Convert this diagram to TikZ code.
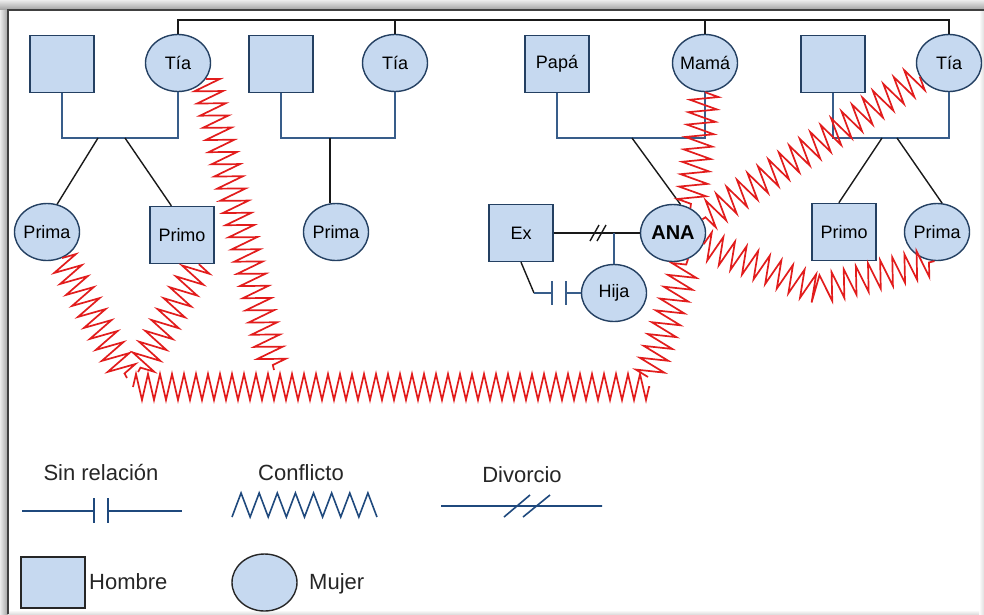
\documentclass[tikz,border=0pt]{standalone}
\usepackage{fontspec}
\setmainfont{Liberation Sans}
\usetikzlibrary{shapes.geometric,decorations.pathmorphing}
\definecolor{nodefill}{RGB}{198,217,240}
\definecolor{nodeedge}{RGB}{36,64,98}
\definecolor{cplcol}{RGB}{56,93,138}
\definecolor{zigcol}{RGB}{226,28,28}
\definecolor{legblue}{RGB}{31,73,125}
\newcommand\nlab[1]{\makebox[0pt]{#1}}
\begin{document}
\begin{tikzpicture}[x=1pt,y=-1pt,
  male/.style={rectangle,draw=nodeedge,line width=1.4pt,fill=nodefill,minimum width=64pt,minimum height=57pt,inner sep=0pt,font=\fontsize{18}{20}\selectfont},
  female/.style={ellipse,draw=nodeedge,line width=1.4pt,fill=nodefill,minimum width=65pt,minimum height=57pt,inner sep=0pt,font=\fontsize{18}{20}\selectfont},
  cpl/.style={draw=cplcol,line width=1.4pt},
  kid/.style={draw=black!90,line width=1.4pt},
  conf/.style={draw=zigcol,line width=1.7pt,decorate,decoration={zigzag,segment length=12.5pt,amplitude=14pt}},
  confh/.style={conf,decoration={zigzag,segment length=12pt,amplitude=13pt}},
  legline/.style={draw=legblue,line width=1.6pt},
  legtext/.style={font=\fontsize{22}{24}\selectfont,text=black!85,inner sep=0pt}]
\useasboundingbox (0,0) rectangle (984,614);
% frame
\fill[white] (0,0) rectangle (984,614);
\shade[top color=gray!15,bottom color=gray!75] (0,0) rectangle (984,10);
\shade[left color=gray!15,right color=gray!75] (0,10) rectangle (8,614);
\shade[left color=white,right color=gray!25] (979,10) rectangle (984,614);
\shade[top color=white,bottom color=gray!25] (8,610) rectangle (979,614);
\draw[black!75,line width=1.2pt] (8,614) -- (8,10) -- (984,10);

% top generation
\node[male] (sq1) at (62,64) {};
\node[female] (tia1) at (178,63) {\nlab{Tía}};
\node[male] (sq2) at (281,64) {};
\node[female] (tia2) at (395,63) {\nlab{Tía}};
\node[male] (papa) at (557,64) {\nlab{Papá}};
\node[female] (mama) at (705,63) {\nlab{Mamá}};
\node[male] (sq4) at (833,64) {};
\node[female] (tia4) at (949,63) {\nlab{Tía}};
% second generation
\node[female] (prima1) at (47,232) {\nlab{Prima}};
\node[male] (primo1) at (182,235) {\nlab{Primo}};
\node[female] (prima2) at (336,232) {\nlab{Prima}};
\node[male] (ex) at (521,233) {\nlab{Ex}};
\node[female] (ana) at (673,233) {\nlab{\fontsize{20}{22}\selectfont\bfseries ANA}};
\node[female] (hija) at (614,293) {\nlab{Hija}};
\node[male] (primo2) at (844,232) {\nlab{Primo}};
\node[female] (prima3) at (937,232) {\nlab{Prima}};

% helper coordinates
\coordinate (top) at (0,20);
\coordinate (cy) at (0,138);
\coordinate (k1) at (98,138);
\coordinate (k2) at (125,138);
\coordinate (k3) at (330,138);
\coordinate (k4) at (632,138);
\coordinate (k5) at (882,138);
\coordinate (k6) at (897,138);

% sibling line on top
\draw[kid] (tia1.north) -- (tia1.north |- top) -- (tia4.north |- top) -- (tia4.north);
\draw[kid] (tia2.north) -- (tia2.north |- top);
\draw[kid] (mama.north) -- (mama.north |- top);

% couple lines
\draw[cpl] (sq1.south) -- (sq1.south |- cy) -- (tia1.south |- cy) -- (tia1.south);
\draw[cpl] (sq2.south) -- (sq2.south |- cy) -- (tia2.south |- cy) -- (tia2.south);
\draw[cpl] (papa.south) -- (papa.south |- cy) -- (mama.south |- cy) -- (mama.south);
\draw[cpl] (sq4.south) -- (sq4.south |- cy) -- (tia4.south |- cy) -- (tia4.south);

% children lines
\draw[kid] (k1) -- (prima1.70);
\draw[kid] (k2) -- (primo1.110);
\draw[kid] (k3) -- (k3 |- prima2.north);
\draw[kid] (k4) -- (ana.75);
\draw[kid] (k5) -- (primo2.100);
\draw[kid] (k6) -- (prima3.80);

% Ex - ANA divorce
\draw[kid] (ex.east) -- (ana.west);
\coordinate (dv) at (598,233);
\draw[kid] ([shift={(-8,8)}]dv) -- ([shift={(1,-8)}]dv);
\draw[kid] ([shift={(-1,8)}]dv) -- ([shift={(8,-8)}]dv);
\draw[cpl] (hija.north |- ana.west) -- (hija.north);

% Ex - Hija no relation
\coordinate (sr1) at (534,293);
\coordinate (b1) at (552,293);
\coordinate (b2) at (566,293);
\draw[kid] (ex.south) -- (sr1);
\draw[cpl] (sr1) -- (b1) ([yshift=12pt]b1) -- ([yshift=-12pt]b1)
  ([yshift=12pt]b2) -- ([yshift=-12pt]b2) (b2) -- (hija.west);

% conflicts
\coordinate (j1) at (133,387);
\coordinate (j2) at (650,387);
\coordinate (z1) at (127,378);
\coordinate (z2) at (138,372);
\coordinate (z3) at (274,370);
\coordinate (z5) at (648,377);
\coordinate (bend) at (818,290);
\draw[conf] (prima1.-60) -- (z1);
\draw[conf] (primo1.-60) -- (z2);
\draw[conf] (tia1.-30) -- (z3);
\draw[confh] (j1) -- (j2);
\draw[conf] (z5) -- (ana.-60);
\draw[conf] (mama.south) -- (ana.55);
\draw[conf] (tia4.-155) -- (ana.25);
\draw[conf] (ana.-20) -- (bend) -- (prima3.-95);

% legend
\node[legtext,anchor=base] (lsr) at (101,480) {Sin relación};
\node[legtext,anchor=base] (lcf) at (301,480) {Conflicto};
\node[legtext,anchor=base] (ldv) at (522,482) {Divorcio};
\draw[legline] (22,511) -- (94,511) (94,498) -- (94,523) (108,498) -- (108,523) (108,511) -- (182,511);
\draw[legline,line join=miter] (232,517) \foreach \i in {1,...,16} { -- ({232+\i*9.06},{ifthenelse(mod(\i,2)==1,493,517)}) };
\draw[legline] (441,506) -- (602,506) (504,517) -- (530,495) (523,517) -- (550,495);
\node[rectangle,draw=black!85,line width=1.4pt,fill=nodefill,minimum width=64pt,minimum height=51pt,inner sep=0pt] (lm) at (53,582.5) {};
\node[legtext,anchor=base west] (lmt) at (89,589) {Hombre};
\node[ellipse,draw=black!85,line width=1.4pt,fill=nodefill,minimum width=65pt,minimum height=57pt,inner sep=0pt] (lf) at (264.5,582.5) {};
\node[legtext,anchor=base west] (lft) at (309,589) {Mujer};
\end{tikzpicture}
\end{document}
